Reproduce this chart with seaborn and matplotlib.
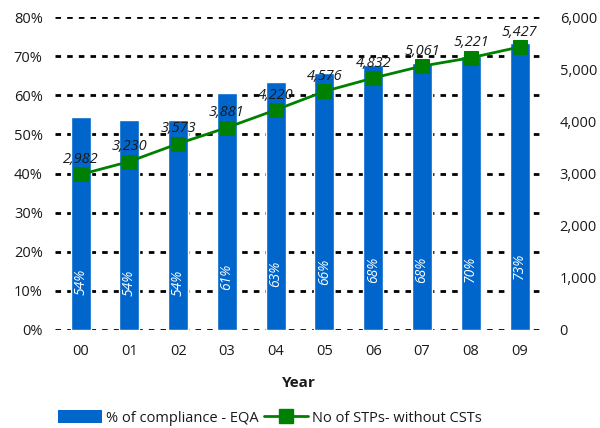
import matplotlib.pyplot as plt
import pandas as pd
import seaborn as sns
from matplotlib.lines import Line2D
from matplotlib.patches import Patch
from matplotlib.ticker import FuncFormatter, MultipleLocator

years = ["00", "01", "02", "03", "04", "05", "06", "07", "08", "09"]
compliance_pct = [54.4, 53.8, 53.8, 60.6, 63.4, 65.7, 67.8, 68.2, 70.0, 73.4]
stp_count = [2982, 3230, 3573, 3881, 4220, 4576, 4832, 5061, 5221, 5427]

BAR_COLOR = "#0066cc"
LINE_COLOR = "#008000"
TEXT_COLOR = "#1a1a1a"

sns.set_style("white")
plt.rcParams["font.family"] = ["Open Sans", "DejaVu Sans"]

df = pd.DataFrame({"Year": years, "pct": compliance_pct, "stp": stp_count})

fig = plt.figure(figsize=(6, 4.28), dpi=100)
ax = fig.add_axes([0.092, 0.229, 0.813, 0.731])

sns.barplot(data=df, x="Year", y="pct", color=BAR_COLOR, width=0.41,
            saturation=1, ax=ax)
ax.set_ylim(0, 80)
ax.set_xlim(-0.52, 9.48)
ax.yaxis.set_major_locator(MultipleLocator(10))
ax.yaxis.set_major_formatter(FuncFormatter(lambda v, _: f"{v:.0f}%"))
ax.grid(axis="y", color="black", linestyle=(0, (2, 2.2)), linewidth=2)
ax.set_axisbelow(True)
for s in ax.spines.values():
    s.set_visible(False)
ax.tick_params(axis="both", length=0, labelsize=10.5, colors=TEXT_COLOR)
ax.tick_params(axis="y", pad=9)
ax.tick_params(axis="x", pad=10)
ax.set_ylabel("")
ax.set_xlabel("Year", fontsize=11, fontweight="bold", labelpad=12,
              color=TEXT_COLOR)

for i, v in enumerate(compliance_pct):
    ax.text(i, v * 0.225, f"{v:.0f}%", rotation=90, ha="center", va="center",
            color="white", fontsize=10, style="italic")

ax2 = ax.twinx()
sns.lineplot(data=df, x="Year", y="stp", color=LINE_COLOR, linewidth=2,
             marker="s", markersize=10, markeredgecolor=LINE_COLOR,
             ax=ax2, legend=False)
ax2.set_ylim(0, 6000)
ax2.yaxis.set_major_locator(MultipleLocator(1000))
ax2.yaxis.set_major_formatter(FuncFormatter(lambda v, _: f"{v:,.0f}"))
ax2.tick_params(axis="y", length=0, labelsize=10.5, colors=TEXT_COLOR, pad=12)
ax2.set_ylabel("")
for s in ax2.spines.values():
    s.set_visible(False)

for i, v in enumerate(stp_count):
    ax2.text(i, v + 140, f"{v:,}", ha="center", va="bottom",
             fontsize=10.5, style="italic", color=TEXT_COLOR)

handles = [
    Patch(facecolor=BAR_COLOR, edgecolor="none"),
    Line2D([], [], color=LINE_COLOR, linewidth=2, marker="s",
           markersize=10, markeredgecolor=LINE_COLOR),
]
fig.legend(handles, ["% of compliance - EQA", "No of STPs- without CSTs"],
           loc="lower center", bbox_to_anchor=(0.45, -0.025), ncol=2,
           frameon=False, fontsize=10.5, handlelength=3.0, handleheight=0.9,
           columnspacing=0.4, handletextpad=0.3, labelcolor=TEXT_COLOR)

fig.savefig("out.png", dpi=100)
